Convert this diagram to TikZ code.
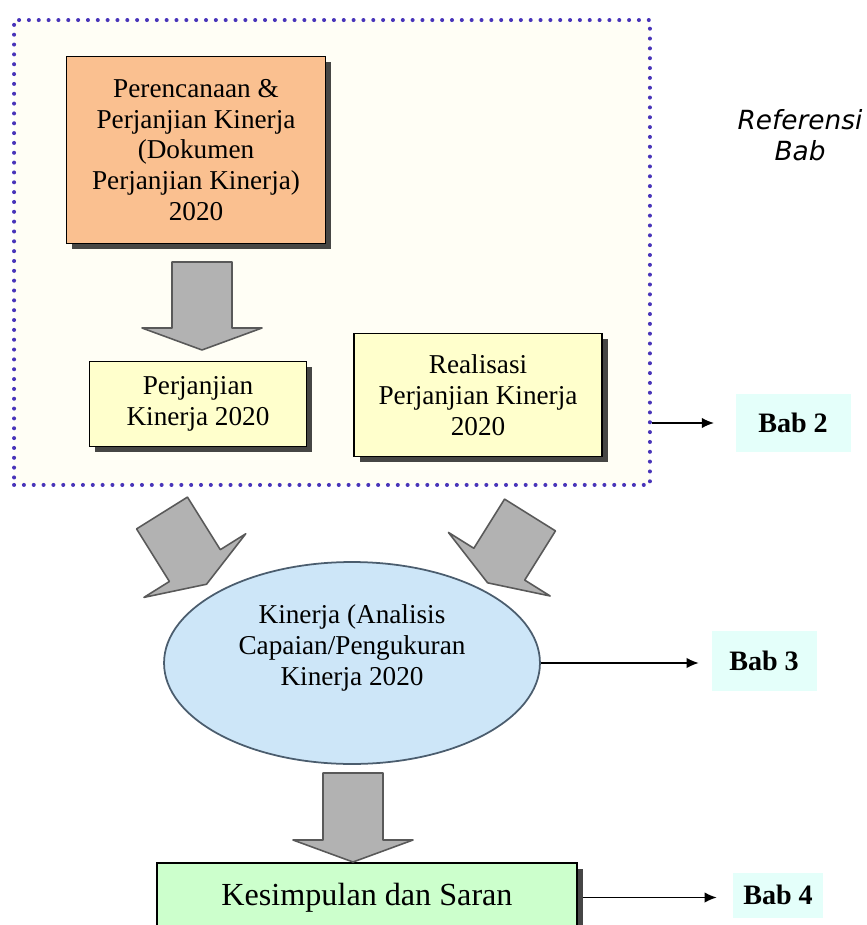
\documentclass[tikz,border=0pt]{standalone}
\usepackage{fontspec}
\setmainfont{Liberation Serif}
\newfontfamily\refsans{DejaVu Sans}
\usetikzlibrary{shapes.geometric,shadows,arrows.meta}

\definecolor{planorange}{RGB}{250,192,144}
\definecolor{pkyellow}{RGB}{255,255,204}
\definecolor{kinblue}{RGB}{205,230,248}
\definecolor{kinedge}{RGB}{75,93,110}
\definecolor{sargreen}{RGB}{204,255,204}
\definecolor{babcyan}{RGB}{228,255,250}
\definecolor{framedot}{RGB}{72,52,185}

\begin{document}
\begin{tikzpicture}[x=0.02cm, y=-0.02cm, >={Latex[length=7pt,width=6pt]},
  txt/.style={font=\fontsize{15.5}{17.5}\selectfont, align=center},
  card/.style={txt, draw=black, line width=0.8pt, inner sep=0pt,
    drop shadow={shadow xshift=3.2pt, shadow yshift=-3.2pt, fill=black!85, opacity=0.85}},
  bab/.style={font=\fontsize{16}{18}\selectfont\bfseries, fill=babcyan, inner sep=0pt},
  bigarrow/.style={draw=black!65, fill=black!30, line width=0.9pt, line join=round},
  link/.style={->, line width=1pt}]
\useasboundingbox (0,0) rectangle (866,925);

% dotted frame round the planning part
\node[draw=framedot, fill=yellow!4, line width=2.3pt, line cap=round,
      dash pattern=on 0pt off 5.6pt,
      minimum width=12.72cm, minimum height=9.3cm] (frame) at (332,252.5) {};

\node[card, fill=planorange, minimum width=5.18cm, minimum height=3.74cm] (plan) at (196,150)
    {Perencanaan \&\\ Perjanjian Kinerja\\ (Dokumen\\ Perjanjian Kinerja)\\ 2020};
\node[card, fill=pkyellow, minimum width=4.34cm, minimum height=1.7cm] (pk) at (198,404)
    {Perjanjian\\ Kinerja 2020};
\node[card, fill=pkyellow, minimum width=4.96cm, minimum height=2.46cm] (real) at (478,395)
    {Realisasi\\ Perjanjian Kinerja\\ 2020};

\node[ellipse, draw=kinedge, fill=kinblue, line width=1pt,
      minimum width=7.52cm, minimum height=4.04cm,
      label={[txt, yshift=0.3cm]center:Kinerja (Analisis\\ Capaian/Pengukuran\\ Kinerja 2020}] (kin) at (352,663) {};

\node[card, fill=sargreen, font=\fontsize{18.3}{20}\selectfont,
      minimum width=8.4cm, minimum height=1.38cm] (sar) at (367,897.5) {Kesimpulan dan Saran};

\node[font=\refsans\itshape\fontsize{15}{18}\selectfont, align=center] (ref) at (800,135) {Referensi\\ Bab};

\node[bab, minimum width=2.3cm, minimum height=1.15cm] (bab2) at (793,423) {Bab 2};
\node[bab, minimum width=2.1cm, minimum height=1.2cm] (bab3) at (764,661) {Bab 3};
\node[bab, minimum width=1.8cm, minimum height=0.9cm] (bab4) at (778,895) {Bab 4};

\draw[link, shorten >=12pt] (frame.east |- bab2) -- (bab2.west);
\draw[link, shorten >=7pt] (kin.east) -- (kin.east -| bab3.west);
\draw[link, shorten <=3pt, shorten >=9pt] (sar.east) -- (sar.east -| bab4.west);

% grey block arrows
\coordinate (t1) at (202,262);
\coordinate (t2) at (162,513);
\coordinate (t3) at (530,515);
\coordinate (t4) at (353,773);
\foreach \c/\ang/\len in {t1/-90/66, t2/-58/62, t3/-122/58, t4/-90/67}
    \draw[bigarrow, shift={(\c)}, rotate=\ang]
        (0,-30) -- (\len,-30) -- (\len,-60) -- (\len+22,0) -- (\len,60) -- (\len,30) -- (0,30) -- cycle;

\end{tikzpicture}
\end{document}
